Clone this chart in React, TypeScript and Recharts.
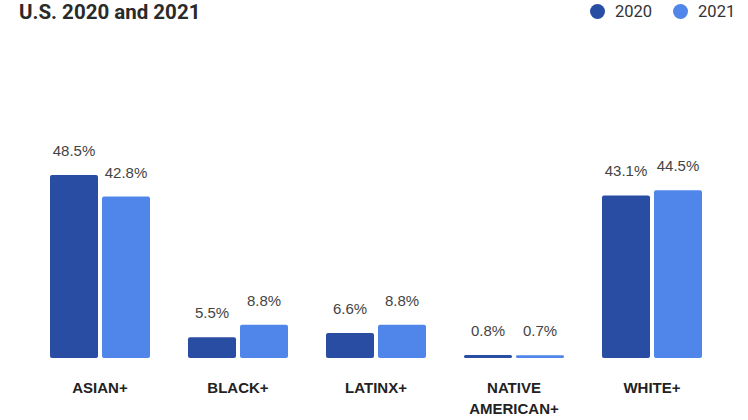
import React from "react";
import { BarChart, Bar, XAxis, YAxis, LabelList } from "recharts";

const categories = ["ASIAN+", "BLACK+", "LATINX+", "NATIVE AMERICAN+", "WHITE+"];
const values2020 = [48.5, 5.5, 6.6, 0.8, 43.1];
const values2021 = [42.8, 8.8, 8.8, 0.7, 44.5];
const seriesNames = ["2020", "2021"];
const colors = ["#284da3", "#5086ea"];

const data = categories.map((c, i) => ({ name: c, y2020: values2020[i], y2021: values2021[i] }));

const FONT = "Roboto, 'Noto Sans', sans-serif";
const LFONT = "'Liberation Sans', Arial, sans-serif";

const Tick = (props: any) => {
  const { x, y, payload } = props;
  const label: string = payload.value;
  const lines = label.length > 10 ? label.split(" ") : [label];
  return (
    <text x={x} y={y} textAnchor="middle" fontFamily={LFONT} fontWeight={700} fontSize={15} fill="#222">
      {lines.map((l, i) => (
        <tspan key={i} x={x} dy={i === 0 ? 27 : 21}>{l}</tspan>
      ))}
    </text>
  );
};

const fmt = (v: any) => `${v}%`;

export default function App() {
  return (
    <div style={{ position: "absolute", left: 0, top: 0, width: 748, height: 420, background: "#fff", fontFamily: FONT }}>
      <div style={{ position: "absolute", left: 19, top: 0, fontSize: 20.5, fontWeight: 700, color: "#2a2a2a" }}>U.S. 2020 and 2021</div>
      <div style={{ position: "absolute", left: 590, top: 2, display: "flex", alignItems: "center", fontSize: 16.5, color: "#333" }}>
        {seriesNames.map((n, i) => (
          <div key={n} style={{ display: "flex", alignItems: "center", marginRight: i === 0 ? 21 : 0 }}>
            <span style={{ display: "inline-block", width: 15, height: 15, borderRadius: "50%", background: colors[i], marginRight: 10 }} />
            <span>{n}</span>
          </div>
        ))}
      </div>
      <BarChart width={748} height={420} data={data} margin={{ top: 94, right: 27, bottom: 0, left: 31 }} barCategoryGap={19} barGap={4}>
        <XAxis dataKey="name" axisLine={false} tickLine={false} height={62} tick={<Tick />} interval={0} />
        <YAxis hide domain={[0, 70]} />
        <Bar dataKey="y2020" fill={colors[0]} radius={[2, 2, 2, 2]} isAnimationActive={false}>
          <LabelList dataKey="y2020" position="top" offset={19} formatter={fmt} fill="#444" fontSize={15} fontFamily={LFONT} />
        </Bar>
        <Bar dataKey="y2021" fill={colors[1]} radius={[2, 2, 2, 2]} isAnimationActive={false}>
          <LabelList dataKey="y2021" position="top" offset={19} formatter={fmt} fill="#444" fontSize={15} fontFamily={LFONT} />
        </Bar>
      </BarChart>
    </div>
  );
}
